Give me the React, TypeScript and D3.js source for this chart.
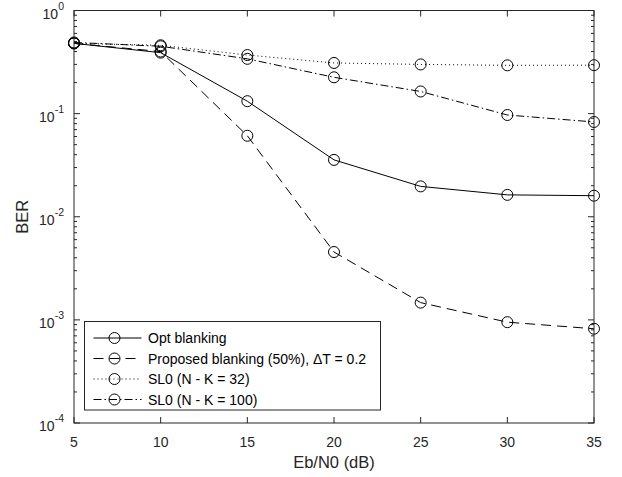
import { useEffect, useRef } from "react";
import * as d3 from "d3";

const snr = [5, 10, 15, 20, 25, 30, 35];
const optBlanking = [0.48, 0.39, 0.132, 0.0356, 0.0197, 0.0163, 0.016];
const proposedBlanking = [0.48, 0.4, 0.061, 0.00455, 0.00147, 0.00095, 0.00082];
const sl0k32 = [0.48, 0.46, 0.37, 0.31, 0.3, 0.294, 0.295];
const sl0k100 = [0.49, 0.45, 0.34, 0.225, 0.164, 0.097, 0.083];

const xTicks = [5, 10, 15, 20, 25, 30, 35];
const yDecades = [0, -1, -2, -3, -4];

const seriesNames = [
  "Opt blanking",
  "Proposed blanking (50%), \u0394T = 0.2",
  "SL0 (N - K = 32)",
  "SL0 (N - K = 100)",
];

const W = 622;
const H = 477;
const margin = { left: 74, right: 28, top: 10.5, bottom: 54 };
const font = "'Liberation Sans', Arial, Helvetica, sans-serif";
const axisColor = "#262626";

const App = () => {
  const ref = useRef<SVGSVGElement>(null);

  useEffect(() => {
    const svg = d3.select(ref.current);
    svg.selectAll("*").remove();

    const x = d3
      .scaleLinear()
      .domain([5, 35])
      .range([margin.left, W - margin.right]);
    const y = d3
      .scaleLog()
      .domain([1e-4, 1])
      .range([H - margin.bottom, margin.top]);

    const [x0, x1] = x.range();
    const [y0, y1] = y.range();

    const series = [
      { name: seriesNames[0], values: optBlanking, dash: "" },
      { name: seriesNames[1], values: proposedBlanking, dash: "10,6" },
      { name: seriesNames[2], values: sl0k32, dash: "1,3" },
      { name: seriesNames[3], values: sl0k100, dash: "8,3,1.5,3" },
    ];

    const line = d3
      .line<number>()
      .x((_, i) => x(snr[i]))
      .y((d) => y(d));

    series.forEach((s) => {
      svg
        .append("path")
        .datum(s.values)
        .attr("d", line)
        .attr("fill", "none")
        .attr("stroke", "black")
        .attr("stroke-width", 1)
        .attr("stroke-dasharray", s.dash || null);

      svg
        .selectAll(null)
        .data(s.values)
        .enter()
        .append("circle")
        .attr("cx", (_, i) => x(snr[i]))
        .attr("cy", (d) => y(d))
        .attr("r", 5.5)
        .attr("fill", "none")
        .attr("stroke", "black")
        .attr("stroke-width", 1);
    });

    const axes = svg.append("g").attr("stroke", axisColor).attr("fill", "none");

    // box
    axes
      .append("rect")
      .attr("x", x0)
      .attr("y", y1)
      .attr("width", x1 - x0)
      .attr("height", y0 - y1)
      .attr("stroke-width", 1);

    // x ticks
    xTicks.forEach((t) => {
      axes
        .append("line")
        .attr("x1", x(t))
        .attr("x2", x(t))
        .attr("y1", y0)
        .attr("y2", y0 - 6);
      axes
        .append("line")
        .attr("x1", x(t))
        .attr("x2", x(t))
        .attr("y1", y1)
        .attr("y2", y1 + 6);
    });

    // y ticks (major + minor)
    yDecades.forEach((e) => {
      const v = Math.pow(10, e);
      [x0, x1].forEach((xx, k) => {
        const dir = k === 0 ? 1 : -1;
        axes
          .append("line")
          .attr("x1", xx)
          .attr("x2", xx + dir * 6)
          .attr("y1", y(v))
          .attr("y2", y(v));
        if (e < 0) {
          d3.range(2, 10).forEach((m) => {
            axes
              .append("line")
              .attr("x1", xx)
              .attr("x2", xx + dir * 3)
              .attr("y1", y(m * v))
              .attr("y2", y(m * v));
          });
        }
      });
    });

    const labels = svg
      .append("g")
      .attr("font-family", font)
      .attr("fill", axisColor);

    xTicks.forEach((t) => {
      labels
        .append("text")
        .attr("x", x(t))
        .attr("y", y0 + 24)
        .attr("text-anchor", "middle")
        .attr("font-size", 14)
        .text(t);
    });

    yDecades.forEach((e) => {
      const g = labels
        .append("text")
        .attr("x", x0 - 10)
        .attr("y", y(Math.pow(10, e)) + 8)
        .attr("text-anchor", "end")
        .attr("font-size", 14);
      g.append("tspan").text("10");
      g.append("tspan")
        .attr("dy", -9)
        .attr("font-size", 10.5)
        .text(String(e));
    });

    labels
      .append("text")
      .attr("x", (x0 + x1) / 2)
      .attr("y", y0 + 44.5)
      .attr("text-anchor", "middle")
      .attr("font-size", 16.5)
      .text("Eb/N0 (dB)");

    labels
      .append("text")
      .attr(
        "transform",
        "translate(" + 28 + "," + (y0 + y1) / 2 + ") rotate(-90)"
      )
      .attr("text-anchor", "middle")
      .attr("font-size", 16.5)
      .text("BER");

    // legend
    const lg = svg.append("g").attr("transform", "translate(84.5,321.5)");
    lg.append("rect")
      .attr("width", 296)
      .attr("height", 88.5)
      .attr("fill", "white")
      .attr("stroke", axisColor);

    series.forEach((s, i) => {
      const ly = 16.5 + i * 20.5;
      lg.append("line")
        .attr("x1", 9)
        .attr("x2", 57)
        .attr("y1", ly)
        .attr("y2", ly)
        .attr("stroke", "black")
        .attr("stroke-dasharray", s.dash || null);
      lg.append("circle")
        .attr("cx", 30)
        .attr("cy", ly)
        .attr("r", 5.5)
        .attr("fill", "none")
        .attr("stroke", "black");
      lg.append("text")
        .attr("x", 63.5)
        .attr("y", ly + 5)
        .attr("font-family", font)
        .attr("font-size", 14)
        .attr("fill", "black")
        .text(s.name);
    });
  }, []);

  return (
    <svg
      ref={ref}
      width={W}
      height={H}
      style={{ position: "absolute", left: 0, top: 0, background: "white" }}
    />
  );
};

export default App;
